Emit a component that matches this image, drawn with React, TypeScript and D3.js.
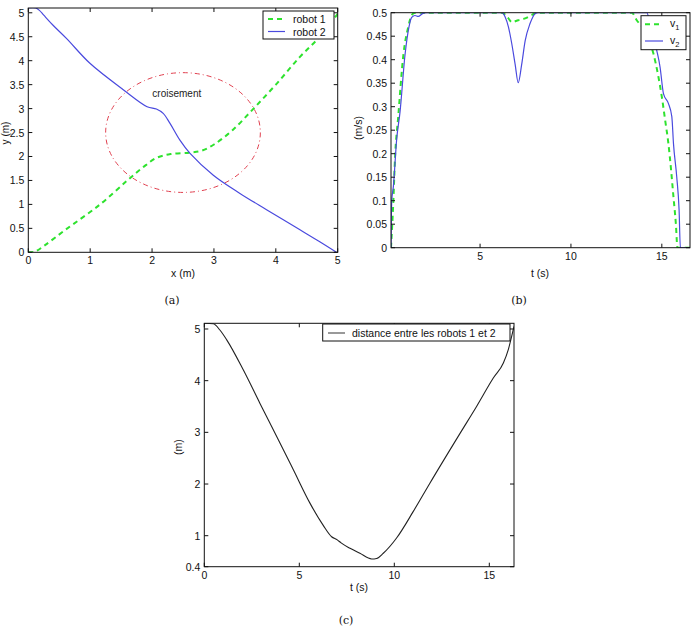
import React from 'react';
import * as d3 from 'd3';

// (a) trajectories
const robot1X = [0, 0.1, 0.25, 0.6, 1.16, 1.6, 1.85, 2.07, 2.3, 2.6, 2.8, 3.0, 3.3, 3.64, 4.0, 4.39, 4.71, 5.0];
const robot1Y = [0, 0.01, 0.13, 0.47, 1.0, 1.5, 1.77, 1.97, 2.05, 2.08, 2.12, 2.25, 2.55, 3.0, 3.5, 4.08, 4.5, 4.98];
const robot2X = [0, 0.12, 0.18, 0.25, 0.4, 0.62, 1.0, 1.54, 1.92, 2.07, 2.18, 2.29, 2.45, 2.61, 2.99, 3.42, 3.85, 4.39, 4.71, 4.98];
const robot2Y = [5.1, 5.1, 5.05, 4.95, 4.74, 4.46, 3.94, 3.39, 3.04, 2.99, 2.9, 2.69, 2.34, 2.07, 1.61, 1.23, 0.89, 0.47, 0.22, 0.0];
const crossCenter = [2.5, 2.5];
const crossRadius = 1.25;

// (b) speeds
const v1T = [0.1, 0.23, 0.32, 0.5, 0.78, 1.05, 1.24, 1.42, 6.2, 6.56, 6.74, 7.1, 7.48, 7.84, 8.1, 13.35, 13.62, 14.1, 14.53, 14.81, 15.0, 15.18, 15.36, 15.51, 15.64, 15.77, 15.86, 16.55];
const v1 = [0, 0.1, 0.19, 0.28, 0.41, 0.47, 0.495, 0.5, 0.5, 0.488, 0.48, 0.484, 0.488, 0.495, 0.5, 0.5, 0.484, 0.46, 0.414, 0.364, 0.321, 0.272, 0.222, 0.165, 0.108, 0.052, 0, 0];
const v2T = [0.1, 0.14, 0.23, 0.41, 0.6, 0.87, 1.09, 1.24, 1.42, 1.6, 1.83, 2.06, 6.2, 6.38, 6.56, 6.74, 6.93, 7.1, 7.29, 7.48, 7.75, 8.03, 8.2, 14.17, 14.35, 14.72, 14.9, 15.09, 15.36, 15.55, 15.64, 15.82, 15.95, 16.02, 16.55];
const v2 = [0, 0.1, 0.13, 0.23, 0.29, 0.41, 0.47, 0.49, 0.494, 0.492, 0.498, 0.5, 0.5, 0.491, 0.47, 0.435, 0.39, 0.351, 0.39, 0.44, 0.477, 0.498, 0.5, 0.5, 0.478, 0.42, 0.385, 0.328, 0.307, 0.279, 0.222, 0.151, 0.08, 0, 0];

// (c) distance
const distT = [0, 0.47, 0.82, 1.18, 2.05, 2.93, 3.81, 4.68, 5.56, 6.26, 6.7, 7.0, 7.2, 7.67, 8.19, 8.81, 9.07, 9.42, 10.13, 11.0, 11.88, 13.46, 14.33, 15.21, 15.74, 16.0, 16.18, 16.3];
const dist = [5.11, 5.1, 4.98, 4.79, 4.21, 3.56, 2.92, 2.28, 1.63, 1.2, 0.98, 0.92, 0.86, 0.756, 0.66, 0.55, 0.56, 0.66, 0.96, 1.47, 2.02, 2.98, 3.5, 4.05, 4.34, 4.6, 4.86, 5.05];

const aXTicks = [0, 1, 2, 3, 4, 5];
const aYTicks = [0, 0.5, 1, 1.5, 2, 2.5, 3, 3.5, 4, 4.5, 5];
const bXTicks = [5, 10, 15];
const bYTicks = [0, 0.05, 0.1, 0.15, 0.2, 0.25, 0.3, 0.35, 0.4, 0.45, 0.5];
const cXTicks = [0, 5, 10, 15];
const cYTicks = [0.4, 1, 2, 3, 4, 5];

const FONT = "'Liberation Sans', Arial, Helvetica, sans-serif";
const SERIF = "'DejaVu Serif', 'Liberation Serif', serif";
const GREEN = '#2ee22e';
const BLUE = '#4a4ade';
const TICK = 4;

const zip = (xs, ys) => xs.map((x, i) => [x, ys[i]]);

function Frame({ x, y, xTicks, yTicks }) {
  const [x0, x1] = x.range();
  const [y0, y1] = y.range();
  return (
    <g>
      <rect x={x0} y={y1} width={x1 - x0} height={y0 - y1} fill="none" stroke="#111" strokeWidth={1} />
      {xTicks.map(t => (
        <g key={'x' + t}>
          <line x1={x(t)} x2={x(t)} y1={y0} y2={y0 - TICK} stroke="#111" />
          <line x1={x(t)} x2={x(t)} y1={y1} y2={y1 + TICK} stroke="#111" />
          <text x={x(t)} y={y0 + 12} textAnchor="middle" fontSize={10.5} fontFamily={FONT} fill="#111">{t}</text>
        </g>
      ))}
      {yTicks.map(t => (
        <g key={'y' + t}>
          <line x1={x0} x2={x0 + TICK} y1={y(t)} y2={y(t)} stroke="#111" />
          <line x1={x1} x2={x1 - TICK} y1={y(t)} y2={y(t)} stroke="#111" />
          <text x={x0 - 4} y={y(t) + 4} textAnchor="end" fontSize={10.5} fontFamily={FONT} fill="#111">{t}</text>
        </g>
      ))}
    </g>
  );
}

export default function App() {
  // panel a
  const ax = d3.scaleLinear().domain([0, 5]).range([28.3, 337.7]);
  const ay = d3.scaleLinear().domain([0, 5.1]).range([252.3, 8]);
  const aLine = d3.line().x(d => ax(d[0])).y(d => ay(d[1])).curve(d3.curveCatmullRom);

  // panel b
  const bx = d3.scaleLinear().domain([0.1, 16.55]).range([391, 690]);
  const by = d3.scaleLinear().domain([0, 0.5]).range([247.7, 12.7]);
  const bLine = d3.line().x(d => bx(d[0])).y(d => by(d[1])).curve(d3.curveMonotoneX);

  // panel c
  const cx = d3.scaleLinear().domain([0, 16.3]).range([204.3, 514]);
  const cy = d3.scaleLinear().domain([0.4, 5.11]).range([566.7, 323.3]);
  const cLine = d3.line().x(d => cx(d[0])).y(d => cy(d[1])).curve(d3.curveMonotoneX);

  return (
    <svg width={696} height={638} style={{ position: 'absolute', left: 0, top: 0, background: '#fff' }}>
      <defs>
        <clipPath id="clipA"><rect x={28.3} y={8} width={309.4} height={244.3} /></clipPath>
        <clipPath id="clipB"><rect x={391} y={12.7} width={299} height={235} /></clipPath>
        <clipPath id="clipC"><rect x={204.3} y={323.3} width={309.7} height={243.4} /></clipPath>
      </defs>

      {/* (a) */}
      <g clipPath="url(#clipA)">
        <ellipse cx={ax(crossCenter[0])} cy={ay(crossCenter[1])}
          rx={ax(crossCenter[0] + crossRadius) - ax(crossCenter[0])}
          ry={ay(crossCenter[1] - crossRadius) - ay(crossCenter[1])}
          fill="none" stroke="#e0404f" strokeWidth={1} strokeDasharray="5,3,1,3" />
        <path d={aLine(zip(robot1X, robot1Y))} fill="none" stroke={GREEN} strokeWidth={2} strokeDasharray="5,4" />
        <path d={aLine(zip(robot2X, robot2Y))} fill="none" stroke={BLUE} strokeWidth={1.2} />
      </g>
      <text x={ax(2.4)} y={ay(3.32) + 4} textAnchor="middle" fontSize={10} fontFamily={FONT} fill="#222">croisement</text>
      <Frame x={ax} y={ay} xTicks={aXTicks} yTicks={aYTicks} />
      <g>
        <rect x={263} y={11} width={71} height={28} fill="#fff" stroke="#111" />
        <line x1={268} x2={285} y1={19} y2={19} stroke={GREEN} strokeWidth={2} strokeDasharray="5,4" />
        <line x1={268} x2={285} y1={31.5} y2={31.5} stroke={BLUE} strokeWidth={1.2} />
        <text x={293} y={23} fontSize={10.5} fontFamily={FONT} fill="#111">robot 1</text>
        <text x={293} y={35.5} fontSize={10.5} fontFamily={FONT} fill="#111">robot 2</text>
      </g>
      <text x={183} y={277} textAnchor="middle" fontSize={10.5} fontFamily={FONT} fill="#111">x (m)</text>
      <text transform="translate(9,133) rotate(-90)" textAnchor="middle" fontSize={10} fontFamily={FONT} fill="#111">y (m)</text>
      <text x={172} y={304} textAnchor="middle" fontSize={11} fontFamily={SERIF} fill="#111">(a)</text>

      {/* (b) */}
      <g clipPath="url(#clipB)">
        <path d={bLine(zip(v1T, v1))} fill="none" stroke={GREEN} strokeWidth={2} strokeDasharray="5,4" />
        <path d={bLine(zip(v2T, v2))} fill="none" stroke={BLUE} strokeWidth={1.2} />
      </g>
      <Frame x={bx} y={by} xTicks={bXTicks} yTicks={bYTicks} />
      <g>
        <rect x={641} y={15.7} width={45} height={34} fill="#fff" stroke="#111" />
        <line x1={645} x2={663} y1={24.3} y2={24.3} stroke={GREEN} strokeWidth={2} strokeDasharray="5,4" />
        <line x1={645} x2={663} y1={41} y2={41} stroke={BLUE} strokeWidth={1.2} />
        <text x={670} y={27} fontSize={10.5} fontFamily={FONT} fill="#111">v<tspan fontSize={7.5} dy={3}>1</tspan></text>
        <text x={670} y={43.5} fontSize={10.5} fontFamily={FONT} fill="#111">v<tspan fontSize={7.5} dy={3}>2</tspan></text>
      </g>
      <text x={540} y={277} textAnchor="middle" fontSize={10.5} fontFamily={FONT} fill="#111">t (s)</text>
      <text transform="translate(362,128) rotate(-90)" textAnchor="middle" fontSize={10.5} fontFamily={FONT} fill="#111">(m/s)</text>
      <text x={519} y={304} textAnchor="middle" fontSize={11} fontFamily={SERIF} fill="#111">(b)</text>

      {/* (c) */}
      <g clipPath="url(#clipC)">
        <path d={cLine(zip(distT, dist))} fill="none" stroke="#222" strokeWidth={1.1} />
      </g>
      <Frame x={cx} y={cy} xTicks={cXTicks} yTicks={cYTicks} />
      <g>
        <rect x={322.7} y={324} width={187.3} height={17} fill="#fff" stroke="#111" />
        <line x1={328} x2={345} y1={333} y2={333} stroke="#555" strokeWidth={1.2} />
        <text x={352} y={337} fontSize={10.5} fontFamily={FONT} fill="#111">distance entre les robots 1 et 2</text>
      </g>
      <text x={359} y={591} textAnchor="middle" fontSize={10.5} fontFamily={FONT} fill="#111">t (s)</text>
      <text transform="translate(182,447) rotate(-90)" textAnchor="middle" fontSize={10.5} fontFamily={FONT} fill="#111">(m)</text>
      <text x={346} y={624} textAnchor="middle" fontSize={11} fontFamily={SERIF} fill="#111">(c)</text>
    </svg>
  );
}
